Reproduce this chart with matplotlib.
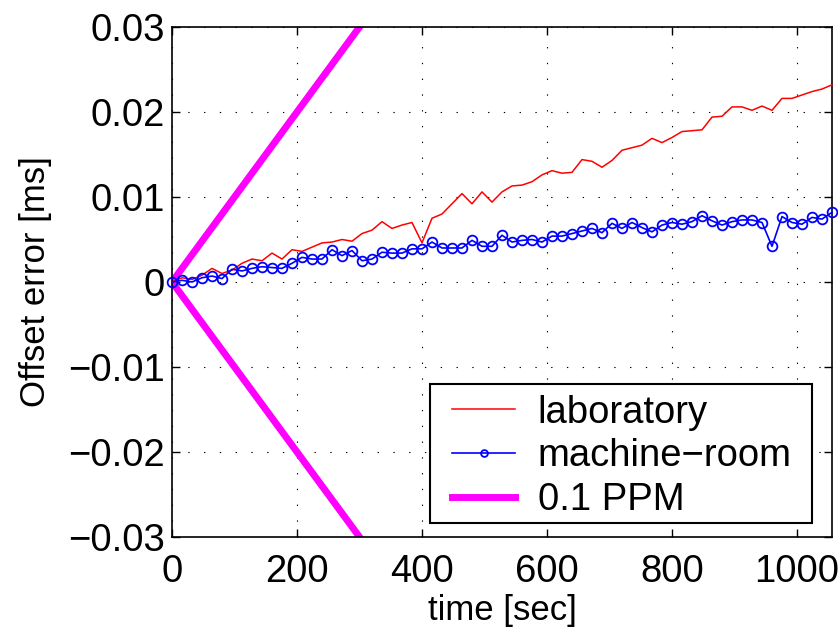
import numpy as np
import matplotlib
matplotlib.use("Agg")
import matplotlib.pyplot as plt
from matplotlib.patches import Rectangle

# ---- data ----
time_sec = np.arange(0, 1057, 16)  # sample instants, every 16 s
laboratory = [0.0, 0.0005, 0.0003, 0.0008, 0.0016, 0.0010, 0.0014, 0.0022, 0.0027, 0.0025,
              0.0034, 0.0027, 0.0038, 0.0036, 0.0041, 0.0046, 0.0047, 0.0050, 0.0048, 0.0057,
              0.0061, 0.0071, 0.0063, 0.0067, 0.0070, 0.0046, 0.0075, 0.0080, 0.0092, 0.0104,
              0.0092, 0.0106, 0.0094, 0.0106, 0.0113, 0.0114, 0.0118, 0.0126, 0.0131, 0.0128,
              0.0129, 0.0144, 0.0142, 0.0135, 0.0143, 0.0155, 0.0158, 0.0161, 0.0169, 0.0164,
              0.0170, 0.0177, 0.0178, 0.0179, 0.0194, 0.0195, 0.0206, 0.0206, 0.0202, 0.0207,
              0.0202, 0.0216, 0.0216, 0.0220, 0.0224, 0.0227, 0.0232]
machine_room = [0.0, 0.0002, 0.0000, 0.0005, 0.0007, 0.0004, 0.0015, 0.0013, 0.0016, 0.0018,
                0.0017, 0.0016, 0.0022, 0.0029, 0.0027, 0.0027, 0.0038, 0.0031, 0.0037, 0.0025,
                0.0027, 0.0035, 0.0034, 0.0034, 0.0039, 0.0039, 0.0047, 0.0040, 0.0040, 0.0040,
                0.0049, 0.0042, 0.0042, 0.0055, 0.0047, 0.0049, 0.0050, 0.0047, 0.0054, 0.0054,
                0.0057, 0.0060, 0.0063, 0.0058, 0.0069, 0.0063, 0.0070, 0.0064, 0.0059, 0.0067,
                0.0070, 0.0068, 0.0071, 0.0078, 0.0072, 0.0067, 0.0071, 0.0073, 0.0073, 0.0070,
                0.0042, 0.0077, 0.0070, 0.0068, 0.0076, 0.0074, 0.0082]
ppm_rate = 0.1  # PPM drift bound
ppm_time = [1056, 0, 1056]
ppm_sign = [-1, 0, 1]
series_labels = ["laboratory", "machine\u2212room", "0.1 PPM"]
x_ticks = [0, 200, 400, 600, 800, 1000]
y_ticks = [-0.03, -0.02, -0.01, 0, 0.01, 0.02, 0.03]
y_ticklabels = ["\u22120.03", "\u22120.02", "\u22120.01", "0", "0.01", "0.02", "0.03"]

plt.rcParams["font.family"] = ["Liberation Sans", "DejaVu Sans"]

W, H = 838, 634
fig = plt.figure(figsize=(W / 100, H / 100), dpi=100)
ax = fig.add_axes([172 / W, 1 - 537 / H, 660 / W, 510 / H])

ppm_offset = [s * ppm_rate * 1e-6 * t * 1e3 for s, t in zip(ppm_sign, ppm_time)]
l_ppm, = ax.plot(ppm_time, ppm_offset, color="#FF00FF", lw=5, zorder=2,
                 solid_joinstyle="miter")
l_lab, = ax.plot(time_sec, laboratory, color="#FF0000", lw=1.1, zorder=3, clip_on=False)
l_mr, = ax.plot(time_sec, machine_room, color="#0000FF", lw=1.2, marker="o",
                markersize=7, markerfacecolor="none", markeredgewidth=1.3,
                zorder=4, clip_on=False)

ax.set_xlim(0, 1056)
ax.set_ylim(-0.03, 0.03)
ax.set_xticks(x_ticks)
ax.set_yticks(y_ticks)
ax.set_yticklabels(y_ticklabels)

ax.grid(True, color="black", linestyle=(0, (1.2, 13)), linewidth=0.8)
ax.set_axisbelow(True)
for sp in ax.spines.values():
    sp.set_linewidth(1.2)
ax.tick_params(direction="in", top=True, right=True, length=6, width=1.0,
               labelsize=27.5, pad=5)
ax.tick_params(axis="x", pad=12)

ax.set_xlabel("time [sec]", fontsize=25, labelpad=3)
ax.set_ylabel("Offset error [ms]", fontsize=25)
ax.yaxis.set_label_coords(-0.182, 0.5)

# legend frame (drawn as a box) and legend content
box_l, box_r, box_t, box_b = 430, 812, 384, 523
frame = Rectangle(((box_l - 172) / 660, (537 - box_b) / 510),
                  (box_r - box_l) / 660, (box_b - box_t) / 510,
                  transform=ax.transAxes, facecolor="white", edgecolor="black",
                  linewidth=1.5, zorder=6, clip_on=False)
ax.add_patch(frame)

leg = ax.legend([l_lab, l_mr, l_ppm], series_labels, loc="lower left",
                bbox_to_anchor=((452 - 172) / 660, (537 - 518) / 510),
                borderaxespad=0, borderpad=0, frameon=False,
                fontsize=27.5, handlelength=1.66, handletextpad=0.58,
                labelspacing=0.2, markerscale=0.7)
leg.set_zorder(7)

fig.savefig("out.png", dpi=100)
